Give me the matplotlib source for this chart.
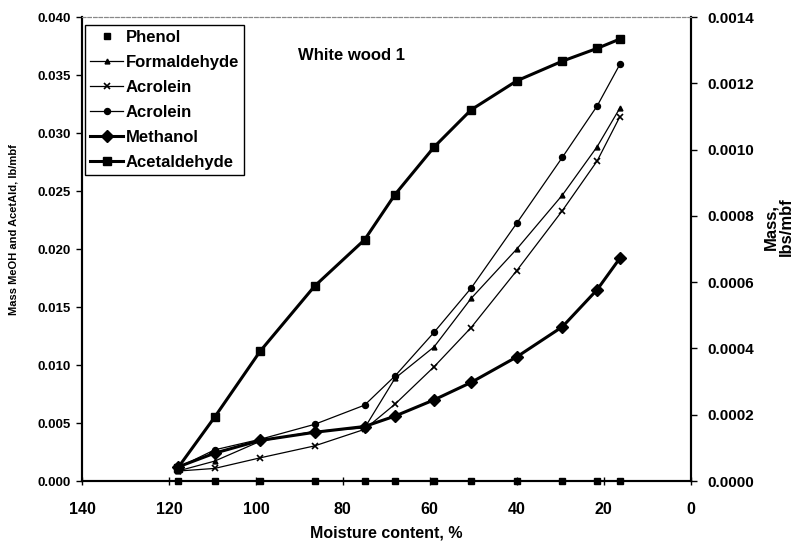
import numpy as np
from matplotlib import pyplot as plt
from matplotlib.ticker import FormatStrFormatter

# moisture content, % (x axis runs from 140 down to 0)
moisture = [118, 109.5, 99, 86.5, 75, 68, 59, 50.5, 40, 29.5, 21.5, 16.3]

# right axis, lbs/mbf
phenol = [0.0, 0.0, 0.0, 0.0, 0.0, 0.0, 0.0, 0.0, 0.0, 0.0, 0.0, 0.0]
formaldehyde = [0.00003, 0.00006, 0.00012, 0.00015, 0.00016, 0.00031,
                0.000405, 0.000551, 0.0007, 0.000863, 0.001009, 0.001125]
acrolein_x = [0.00003, 0.000038, 0.00007, 0.000106, 0.000156, 0.000232,
              0.000345, 0.000463, 0.000635, 0.000816, 0.000966, 0.001099]
acrolein_o = [0.00004, 0.000094, 0.000126, 0.000171, 0.000229, 0.000317,
              0.000449, 0.000582, 0.000778, 0.000977, 0.001132, 0.001257]

# left axis, lb/mbf
methanol = [0.0012, 0.0024, 0.0035, 0.0042, 0.0047, 0.0056,
            0.0070, 0.0085, 0.0107, 0.0133, 0.0165, 0.0192]
acetaldehyde = [0.0011, 0.0055, 0.0112, 0.0168, 0.0208, 0.0247,
                0.0288, 0.0320, 0.0345, 0.0362, 0.0373, 0.0381]

x_ticks = [140, 120, 100, 80, 60, 40, 20, 0]
left_ticks = np.arange(0, 0.0401, 0.005)
right_ticks = np.arange(0, 0.00141, 0.0002)

plt.rcParams['font.family'] = ['Liberation Sans', 'DejaVu Sans']
plt.rcParams['font.weight'] = 'bold'
plt.rcParams['axes.labelweight'] = 'bold'

fig = plt.figure(figsize=(8.02, 5.46), dpi=100)
ax = fig.add_axes([0.1022, 0.119, 0.7590, 0.8498])
ax2 = ax.twinx()

# left axis series
h_meoh, = ax.plot(moisture, methanol, color='black', lw=2.2, marker='D',
                  ms=6, label='Methanol')
h_acet, = ax.plot(moisture, acetaldehyde, color='black', lw=2.2, marker='s',
                  ms=5.5, label='Acetaldehyde')

# right axis series
h_phen, = ax2.plot(moisture, phenol, ls='none', color='black', marker='s',
                   ms=4, clip_on=False, label='Phenol')
h_form, = ax2.plot(moisture, formaldehyde, color='black', lw=0.9, marker='^',
                   ms=3.5, label='Formaldehyde')
h_acx, = ax2.plot(moisture, acrolein_x, color='black', lw=0.9, marker='x',
                  ms=4.5, mew=1.2, label='Acrolein')
h_aco, = ax2.plot(moisture, acrolein_o, color='black', lw=0.9, marker='o',
                  ms=4.3, label='Acrolein')

ax.set_xlim(140, 0)
ax.set_ylim(0, 0.040)
ax2.set_ylim(0, 0.0014)
ax.set_xticks(x_ticks)
ax.set_yticks(left_ticks)
ax2.set_yticks(right_ticks)
ax.yaxis.set_major_formatter(FormatStrFormatter('%.3f'))
ax2.yaxis.set_major_formatter(FormatStrFormatter('%.4f'))

ax.tick_params(axis='y', direction='out', length=4, width=1, labelsize=9.5, pad=4)
ax.tick_params(axis='x', direction='inout', length=6, width=1, labelsize=11.5, pad=12)
ax2.tick_params(axis='y', direction='out', length=4, width=1, labelsize=11, pad=8)

for a in (ax, ax2):
    a.spines['top'].set_color('#888888')
    a.spines['top'].set_linestyle((0, (3, 2)))
    a.spines['top'].set_linewidth(0.8)
    for s in ('left', 'right', 'bottom'):
        a.spines[s].set_linewidth(1.5)
        a.spines[s].set_color('black')

ax.set_xlabel('Moisture content, %', fontsize=11.5, labelpad=6)
fig.text(0.017, 0.58, 'Mass MeOH and AcetAld, lb/mbf', rotation=90,
         fontsize=8, ha='center', va='center')
fig.text(0.971, 0.585, 'Mass,\nlbs/mbf', rotation=90, fontsize=12,
         ha='center', va='center', multialignment='center', linespacing=1.0)
ax.text(0.355, 0.918, 'White wood 1', transform=ax.transAxes, fontsize=12,
        va='center')

leg = ax2.legend(handles=[h_phen, h_form, h_acx, h_aco, h_meoh, h_acet],
                 loc='upper left', bbox_to_anchor=(0.005, 0.983),
                 borderaxespad=0, fancybox=False, edgecolor='black',
                 fontsize=12, handlelength=2.0, handletextpad=0.15,
                 labelspacing=0.6, borderpad=0.3, framealpha=1)
leg.get_frame().set_linewidth(1.0)

fig.savefig('out.png', dpi=100)
